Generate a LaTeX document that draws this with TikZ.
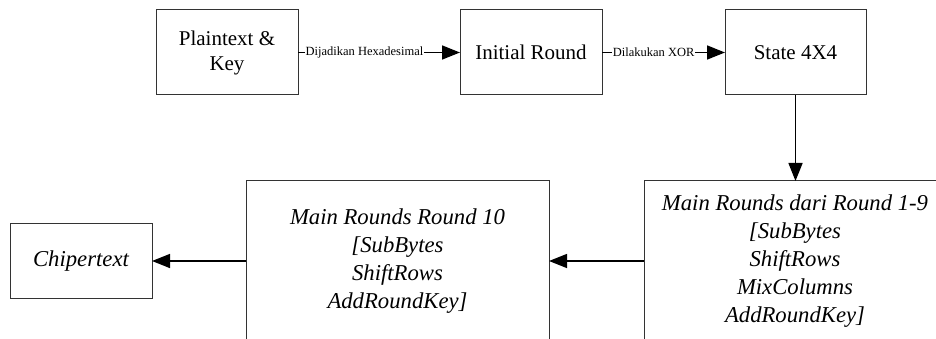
\documentclass[tikz,border=0pt]{standalone}
\usepackage{fontspec}
\setmainfont{Liberation Serif}
\usetikzlibrary{arrows.meta}
\begin{document}
\begin{tikzpicture}[x=1pt,y=-1pt,
  box/.style={draw=black!80, line width=1pt, inner sep=0pt, outer sep=0pt, align=center},
  bigtxt/.style={font=\fontsize{21}{25}\selectfont},
  ittxt/.style={font=\fontsize{22.7}{28}\selectfont\itshape},
  conn/.style={draw=black, line width=1.5pt, -{Triangle[length=18pt,width=14pt]}},
  lbl/.style={fill=white, inner sep=1pt, font=\fontsize{12.5}{14}\selectfont}]
\useasboundingbox (0,0) rectangle (936,339);
\clip (0,0) rectangle (936,339);
\node[box, bigtxt, minimum width=142pt, minimum height=85pt] (pk) at (227,52.5) {Plaintext \&\\Key};
\node[box, bigtxt, minimum width=142pt, minimum height=85pt] (ir) at (531,52.5) {Initial Round};
\node[box, bigtxt, minimum width=141pt, minimum height=85pt] (st) at (795.5,52.5) {State 4X4};
\node[box, ittxt, minimum width=302pt, minimum height=160pt] (m19) at (795,261) {Main Rounds dari Round 1-9\\{[}SubBytes\\ShiftRows\\MixColumns\\AddRoundKey{]}};
\node[box, ittxt, minimum width=303pt, minimum height=160pt] (m10) at (397.5,261) {Main Rounds Round 10\\{[}SubBytes\\ShiftRows\\AddRoundKey{]}};
\node[box, ittxt, minimum width=142pt, minimum height=75pt] (ct) at (81,261) {Chipertext};
\draw[conn] (pk.east) -- node[lbl, pos=0.41] {Dijadikan Hexadesimal} (ir.west);
\draw[conn] (ir.east) -- node[lbl, pos=0.42] {Dilakukan XOR} (st.west);
\draw[conn] (st.south) -- (st.south |- m19.north);
\draw[conn] (m19.west) -- (m10.east);
\draw[conn] (m10.west) -- (ct.east);
\end{tikzpicture}
\end{document}
